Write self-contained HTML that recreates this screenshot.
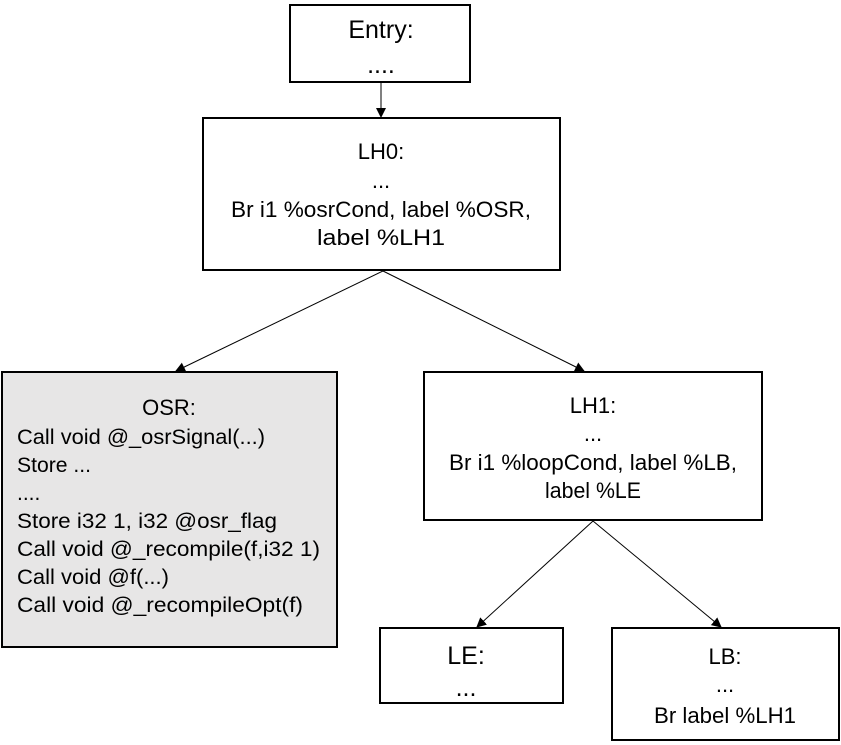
<!DOCTYPE html>
<html><head><meta charset="utf-8"><style>html,body{margin:0;padding:0;background:#fff}svg{display:block}text{font-family:"Liberation Sans",Arial,sans-serif;fill:#000}</style></head>
<body>
<svg width="841" height="745" viewBox="0 0 841 745" xmlns="http://www.w3.org/2000/svg">
<defs><marker id="a" markerWidth="10" markerHeight="10" refX="9" refY="5" orient="auto" markerUnits="userSpaceOnUse"><path d="M0,0 L10,5 L0,10 z" fill="#000"/></marker></defs>
<g fill="#fff" stroke="#000" stroke-width="2">
<rect x="290" y="5" width="180" height="77"/>
<rect x="203" y="118" width="357" height="152"/>
<rect x="2" y="372" width="335" height="275" fill="#e7e6e6"/>
<rect x="424" y="372" width="338" height="148"/>
<rect x="380" y="628" width="183" height="75"/>
<rect x="612" y="628" width="227" height="112"/>
</g>
<g stroke="#000" stroke-width="1" marker-end="url(#a)">
<line x1="381" y1="82" x2="381" y2="117"/>
<line x1="383" y1="271" x2="176" y2="371"/>
<line x1="383" y1="271" x2="584" y2="371"/>
<line x1="593" y1="521" x2="477" y2="627"/>
<line x1="593" y1="521" x2="721" y2="627"/>
</g>
<g font-size="25" text-anchor="middle">
<text x="381" y="38">Entry:</text>
<text x="381" y="73">....</text>
<text x="466" y="664">LE:</text>
<text x="466" y="696">...</text>
</g>
<g font-size="22" text-anchor="middle">
<text x="381" y="159">LH0:</text>
<text x="381" y="188">...</text>
<text x="381" y="217" textLength="300" lengthAdjust="spacingAndGlyphs">Br i1 %osrCond, label %OSR,</text>
<text x="381" y="245" textLength="128" lengthAdjust="spacingAndGlyphs">label %LH1</text>
<text x="169" y="415">OSR:</text>
<text x="593" y="413">LH1:</text>
<text x="593" y="441">...</text>
<text x="593" y="470" textLength="288" lengthAdjust="spacingAndGlyphs">Br i1 %loopCond, label %LB,</text>
<text x="593" y="498" textLength="96" lengthAdjust="spacingAndGlyphs">label %LE</text>
<text x="725" y="664">LB:</text>
<text x="725" y="692">...</text>
<text x="725" y="723" textLength="142" lengthAdjust="spacingAndGlyphs">Br label %LH1</text>
</g>
<g font-size="21">
<text x="17" y="444" textLength="248" lengthAdjust="spacingAndGlyphs">Call void @_osrSignal(...)</text>
<text x="17" y="472" textLength="74" lengthAdjust="spacingAndGlyphs">Store ...</text>
<text x="17" y="500">....</text>
<text x="17" y="528" textLength="260" lengthAdjust="spacingAndGlyphs">Store i32 1, i32 @osr_flag</text>
<text x="17" y="556" textLength="303" lengthAdjust="spacingAndGlyphs">Call void @_recompile(f,i32 1)</text>
<text x="17" y="584" textLength="152" lengthAdjust="spacingAndGlyphs">Call void @f(...)</text>
<text x="17" y="612" textLength="286" lengthAdjust="spacingAndGlyphs">Call void @_recompileOpt(f)</text>
</g>
</svg>
</body></html>
